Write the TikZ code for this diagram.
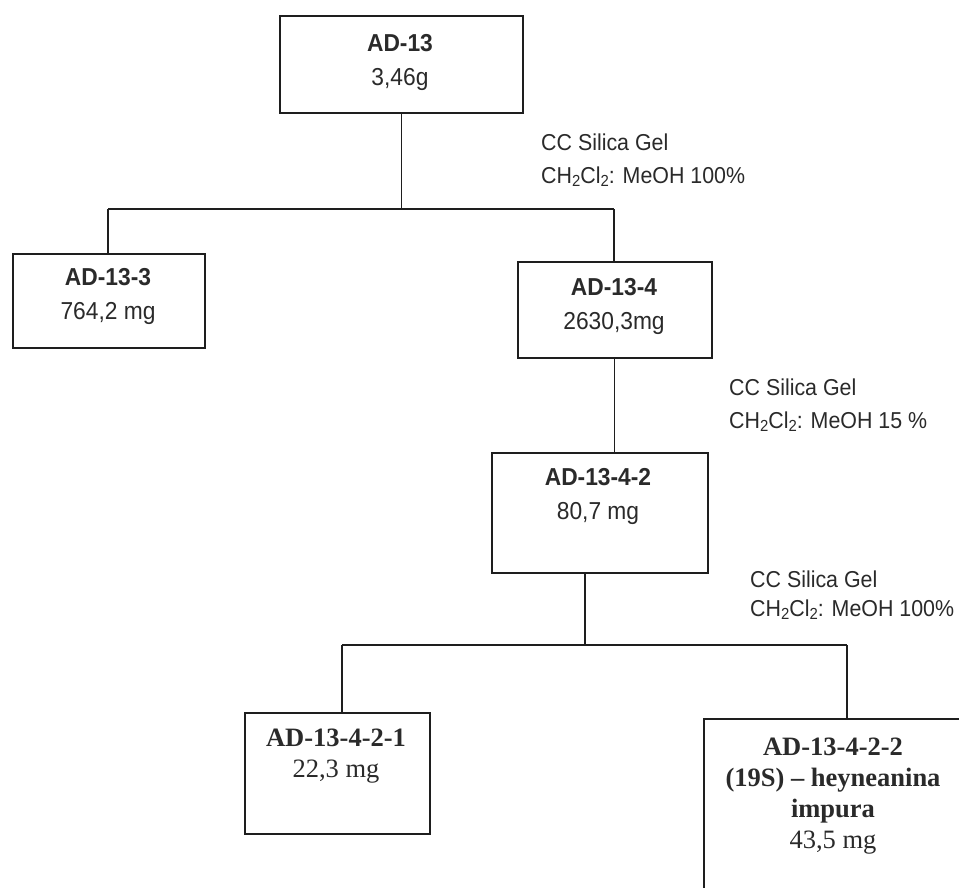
\documentclass[tikz,border=0pt]{standalone}
\usepackage{fontspec}
\setmainfont{Liberation Sans}
\newfontfamily\condsans[FakeStretch=0.93]{Liberation Sans}
\newfontfamily\timesf{Liberation Serif}
\newcommand\sbs[1]{\raisebox{-0.2ex}{\fontsize{16}{16}\selectfont #1}}
\definecolor{ink}{HTML}{2A2A2A}
\definecolor{linec}{HTML}{1E1E1E}
\begin{document}
\begin{tikzpicture}[x=1pt,y=-1pt,
  box/.style={draw=linec, line width=1.5pt, inner sep=0pt, anchor=north west},
  conn/.style={draw=linec, line width=1.4pt},
  sanstxt/.style={font=\condsans\fontsize{24.5}{34}\selectfont, align=center, text=ink, inner sep=0pt},
  seriftxt/.style={font=\timesf\fontsize{26.5}{31}\selectfont, align=center, text=ink, inner sep=0pt},
  lbltxt/.style={font=\condsans\fontsize{23}{33}\selectfont, align=left, text=ink, inner sep=0pt, anchor=west}]
\useasboundingbox[fill=white] (0,0) rectangle (959,887);

% boxes
\node[box, minimum width=243pt, minimum height=97pt]  (ad13)    at (279,15)  {};
\node[box, minimum width=192pt, minimum height=94pt]  (ad133)   at (12,253)  {};
\node[box, minimum width=194pt, minimum height=96pt]  (ad134)   at (517,261) {};
\node[box, minimum width=216pt, minimum height=120pt] (ad1342)  at (491,452) {};
\node[box, minimum width=185pt, minimum height=121pt] (ad13421) at (244,712) {};
\node[box, minimum width=262pt, minimum height=190pt] (ad13422) at (703,718) {};

% texts
\node[sanstxt] (t13)    at (400,62)  {\textbf{AD-13}\\3,46g};
\node[sanstxt] (t133)   at (108,296) {\textbf{AD-13-3}\\764,2 mg};
\node[sanstxt] (t134)   at (614,306) {\textbf{AD-13-4}\\2630,3mg};
\node[sanstxt] (t1342)  at (598,496) {\textbf{AD-13-4-2}\\80,7 mg};
\node[seriftxt] (t13421) at (336,756) {\textbf{AD-13-4-2-1}\\22,3 mg};
\node[seriftxt] (t13422) at (833,796) {\textbf{AD-13-4-2-2}\\\textbf{(19S) – heyneanina}\\\textbf{impura}\\43,5 mg};

% labels
\node[lbltxt] (c1) at (541,160) {CC Silica Gel\\CH\sbs{2}Cl\sbs{2}: MeOH 100\%};
\node[lbltxt] (c2) at (729,405) {CC Silica Gel\\CH\sbs{2}Cl\sbs{2}: MeOH 15 \%};
\node[lbltxt, font=\condsans\fontsize{23}{29}\selectfont] (c3) at (750,595) {CC Silica Gel\\CH\sbs{2}Cl\sbs{2}: MeOH 100\%};

% connectors
\coordinate (l1) at (108,209);
\coordinate (r1) at (614,209);
\draw[conn] (ad13.south) -- (ad13.south |- l1);
\draw[conn] (l1) -- (r1);
\draw[conn] (l1) -- (l1 |- ad133.north);
\draw[conn] (r1) -- (r1 |- ad134.north);
\draw[conn] (ad134.south) -- (ad134.south |- ad1342.north);

\coordinate (j2) at (585,645);
\coordinate (l2) at (342,645);
\coordinate (r2) at (847,645);
\draw[conn] (j2 |- ad1342.south) -- (j2);
\draw[conn] (l2) -- (r2);
\draw[conn] (l2) -- (l2 |- ad13421.north);
\draw[conn] (r2) -- (r2 |- ad13422.north);
\end{tikzpicture}
\end{document}
